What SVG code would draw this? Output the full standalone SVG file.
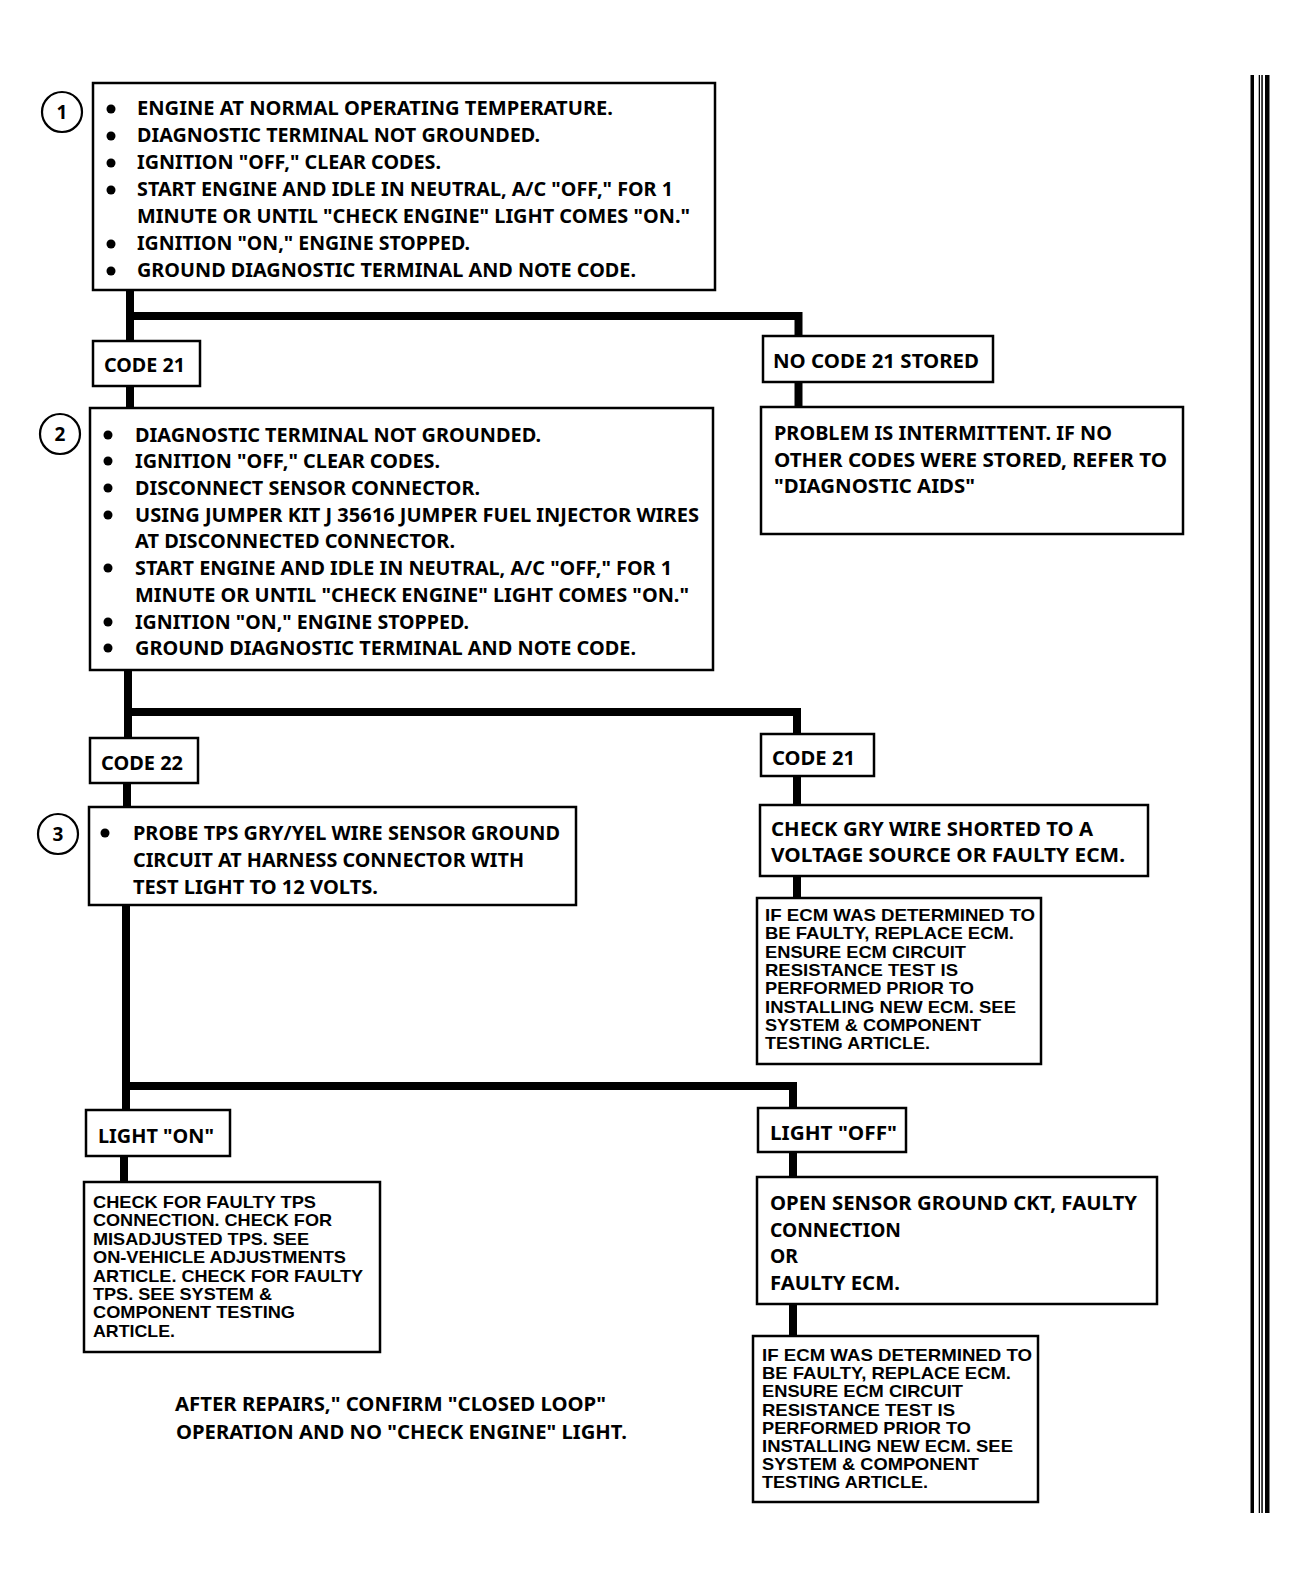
<svg xmlns="http://www.w3.org/2000/svg" width="1306" height="1588" viewBox="0 0 1306 1588">
<style>
.box{fill:#fff;stroke:#000;stroke-width:2.5}
.conn{fill:none;stroke:#000;stroke-width:8;stroke-linejoin:miter;stroke-linecap:butt}
.t{font-family:"Noto Sans","Liberation Sans",sans-serif;font-weight:700;font-size:19px;fill:#000}
.s{font-family:"Liberation Sans",Arial,sans-serif;font-weight:700;font-size:17px;fill:#000}
.num{font-family:"Noto Sans","Liberation Sans",sans-serif;font-weight:700;font-size:19px;fill:#000;text-anchor:middle}
.circ{fill:#fff;stroke:#000;stroke-width:2.2}
.dot{fill:#000}
</style>
<rect width="1306" height="1588" fill="#fff"/>

<g id="connectors">
<path class="conn" d="M130,290 V341"/>
<path class="conn" d="M126,316 H798.5 V336"/>
<path class="conn" d="M130,386 V408"/>
<path class="conn" d="M798.5,382 V407"/>
<path class="conn" d="M128,670 V738"/>
<path class="conn" d="M124,712 H797 V734"/>
<path class="conn" d="M127,783 V807"/>
<path class="conn" d="M797,776 V805"/>
<path class="conn" d="M797,876 V898"/>
<path class="conn" d="M126,905 V1110"/>
<path class="conn" d="M122,1086 H793 V1108"/>
<path class="conn" d="M124,1156 V1182"/>
<path class="conn" d="M793,1152 V1177"/>
<path class="conn" d="M793,1304 V1336"/>
</g>

<g id="step1">
<circle class="circ" cx="62" cy="112" r="20"/>
<text class="num" x="62" y="119">1</text>
<rect class="box" x="93" y="83" width="622" height="207"/>
<circle class="dot" cx="111" cy="109" r="4.5"/>
<circle class="dot" cx="111" cy="136" r="4.5"/>
<circle class="dot" cx="111" cy="163" r="4.5"/>
<circle class="dot" cx="111" cy="190" r="4.5"/>
<circle class="dot" cx="111" cy="244" r="4.5"/>
<circle class="dot" cx="111" cy="271" r="4.5"/>
<text class="t" x="137" y="115" textLength="476" lengthAdjust="spacingAndGlyphs">ENGINE AT NORMAL OPERATING TEMPERATURE.</text>
<text class="t" x="137" y="142" textLength="403" lengthAdjust="spacingAndGlyphs">DIAGNOSTIC TERMINAL NOT GROUNDED.</text>
<text class="t" x="137" y="169" textLength="304" lengthAdjust="spacingAndGlyphs">IGNITION "OFF," CLEAR CODES.</text>
<text class="t" x="137" y="196" textLength="536" lengthAdjust="spacingAndGlyphs">START ENGINE AND IDLE IN NEUTRAL, A/C "OFF," FOR 1</text>
<text class="t" x="137" y="223" textLength="553" lengthAdjust="spacingAndGlyphs">MINUTE OR UNTIL "CHECK ENGINE" LIGHT COMES "ON."</text>
<text class="t" x="137" y="250" textLength="333" lengthAdjust="spacingAndGlyphs">IGNITION "ON," ENGINE STOPPED.</text>
<text class="t" x="137" y="277" textLength="499" lengthAdjust="spacingAndGlyphs">GROUND DIAGNOSTIC TERMINAL AND NOTE CODE.</text>
</g>

<g id="code21a">
<rect class="box" x="93" y="341" width="107" height="45"/>
<text class="t" x="104" y="372" textLength="81" lengthAdjust="spacingAndGlyphs">CODE 21</text>
</g>

<g id="nocode21">
<rect class="box" x="763" y="336" width="230" height="46"/>
<text class="t" x="773" y="368" textLength="206" lengthAdjust="spacingAndGlyphs">NO CODE 21 STORED</text>
</g>

<g id="intermittent">
<rect class="box" x="761" y="407" width="422" height="127"/>
<text class="t" x="774" y="440" textLength="338" lengthAdjust="spacingAndGlyphs">PROBLEM IS INTERMITTENT.  IF NO</text>
<text class="t" x="774" y="467" textLength="393" lengthAdjust="spacingAndGlyphs">OTHER CODES WERE STORED, REFER TO</text>
<text class="t" x="774" y="493" textLength="201" lengthAdjust="spacingAndGlyphs">"DIAGNOSTIC AIDS"</text>
</g>

<g id="step2">
<circle class="circ" cx="60" cy="434" r="20"/>
<text class="num" x="60" y="441">2</text>
<rect class="box" x="90" y="408" width="623" height="262"/>
<circle class="dot" cx="108" cy="435" r="4.5"/>
<circle class="dot" cx="108" cy="461" r="4.5"/>
<circle class="dot" cx="108" cy="488" r="4.5"/>
<circle class="dot" cx="108" cy="515" r="4.5"/>
<circle class="dot" cx="108" cy="568" r="4.5"/>
<circle class="dot" cx="108" cy="622" r="4.5"/>
<circle class="dot" cx="108" cy="648" r="4.5"/>
<text class="t" x="135" y="442" textLength="406" lengthAdjust="spacingAndGlyphs">DIAGNOSTIC TERMINAL NOT GROUNDED.</text>
<text class="t" x="135" y="468" textLength="305" lengthAdjust="spacingAndGlyphs">IGNITION "OFF," CLEAR CODES.</text>
<text class="t" x="135" y="495" textLength="345" lengthAdjust="spacingAndGlyphs">DISCONNECT SENSOR CONNECTOR.</text>
<text class="t" x="135" y="522" textLength="564" lengthAdjust="spacingAndGlyphs">USING JUMPER KIT J 35616 JUMPER FUEL INJECTOR WIRES</text>
<text class="t" x="135" y="548" textLength="320" lengthAdjust="spacingAndGlyphs">AT DISCONNECTED CONNECTOR.</text>
<text class="t" x="135" y="575" textLength="537" lengthAdjust="spacingAndGlyphs">START ENGINE AND IDLE IN NEUTRAL, A/C "OFF," FOR 1</text>
<text class="t" x="135" y="602" textLength="554" lengthAdjust="spacingAndGlyphs">MINUTE OR UNTIL "CHECK ENGINE" LIGHT COMES "ON."</text>
<text class="t" x="135" y="629" textLength="334" lengthAdjust="spacingAndGlyphs">IGNITION "ON," ENGINE STOPPED.</text>
<text class="t" x="135" y="655" textLength="501" lengthAdjust="spacingAndGlyphs">GROUND DIAGNOSTIC TERMINAL AND NOTE CODE.</text>
</g>

<g id="code22">
<rect class="box" x="90" y="738" width="108" height="45"/>
<text class="t" x="101" y="770" textLength="82" lengthAdjust="spacingAndGlyphs">CODE 22</text>
</g>

<g id="code21b">
<rect class="box" x="761" y="734" width="113" height="42"/>
<text class="t" x="772" y="765" textLength="83" lengthAdjust="spacingAndGlyphs">CODE 21</text>
</g>

<g id="checkgry">
<rect class="box" x="760" y="805" width="388" height="71"/>
<text class="t" x="771" y="836" textLength="322" lengthAdjust="spacingAndGlyphs">CHECK GRY WIRE SHORTED TO A</text>
<text class="t" x="771" y="862" textLength="354" lengthAdjust="spacingAndGlyphs">VOLTAGE SOURCE OR FAULTY ECM.</text>
</g>

<g id="ecm1">
<rect class="box" x="757" y="898" width="284" height="166"/>
<text class="s" x="765" y="921" textLength="270" lengthAdjust="spacingAndGlyphs">IF ECM WAS DETERMINED TO</text>
<text class="s" x="765" y="939.3" textLength="249" lengthAdjust="spacingAndGlyphs">BE FAULTY, REPLACE ECM.</text>
<text class="s" x="765" y="957.6" textLength="201" lengthAdjust="spacingAndGlyphs">ENSURE ECM CIRCUIT</text>
<text class="s" x="765" y="975.9" textLength="193" lengthAdjust="spacingAndGlyphs">RESISTANCE TEST IS</text>
<text class="s" x="765" y="994.2" textLength="209" lengthAdjust="spacingAndGlyphs">PERFORMED PRIOR TO</text>
<text class="s" x="765" y="1012.5" textLength="251" lengthAdjust="spacingAndGlyphs">INSTALLING NEW ECM. SEE</text>
<text class="s" x="765" y="1030.8" textLength="216" lengthAdjust="spacingAndGlyphs">SYSTEM &amp; COMPONENT</text>
<text class="s" x="765" y="1049.1" textLength="165" lengthAdjust="spacingAndGlyphs">TESTING ARTICLE.</text>
</g>

<g id="step3">
<circle class="circ" cx="58" cy="834" r="20"/>
<text class="num" x="58" y="841">3</text>
<rect class="box" x="89" y="807" width="487" height="98"/>
<circle class="dot" cx="105" cy="833" r="4.5"/>
<text class="t" x="133" y="840" textLength="427" lengthAdjust="spacingAndGlyphs">PROBE TPS GRY/YEL WIRE SENSOR GROUND</text>
<text class="t" x="133" y="867" textLength="391" lengthAdjust="spacingAndGlyphs">CIRCUIT AT HARNESS CONNECTOR WITH</text>
<text class="t" x="133" y="894" textLength="245" lengthAdjust="spacingAndGlyphs">TEST LIGHT TO 12 VOLTS.</text>
</g>

<g id="lighton">
<rect class="box" x="86" y="1110" width="144" height="46"/>
<text class="t" x="98" y="1143" textLength="116" lengthAdjust="spacingAndGlyphs">LIGHT "ON"</text>
</g>

<g id="tpscheck">
<rect class="box" x="84" y="1182" width="296" height="170"/>
<text class="s" x="93" y="1208" textLength="223" lengthAdjust="spacingAndGlyphs">CHECK FOR FAULTY TPS</text>
<text class="s" x="93" y="1226.4" textLength="239" lengthAdjust="spacingAndGlyphs">CONNECTION. CHECK FOR</text>
<text class="s" x="93" y="1244.8" textLength="216" lengthAdjust="spacingAndGlyphs">MISADJUSTED TPS. SEE</text>
<text class="s" x="93" y="1263.2" textLength="253" lengthAdjust="spacingAndGlyphs">ON-VEHICLE ADJUSTMENTS</text>
<text class="s" x="93" y="1281.6" textLength="270" lengthAdjust="spacingAndGlyphs">ARTICLE. CHECK FOR FAULTY</text>
<text class="s" x="93" y="1300" textLength="179" lengthAdjust="spacingAndGlyphs">TPS. SEE SYSTEM &amp;</text>
<text class="s" x="93" y="1318.4" textLength="202" lengthAdjust="spacingAndGlyphs">COMPONENT TESTING</text>
<text class="s" x="93" y="1336.8" textLength="82" lengthAdjust="spacingAndGlyphs">ARTICLE.</text>
</g>

<g id="lightoff">
<rect class="box" x="758" y="1108" width="148" height="44"/>
<text class="t" x="770" y="1140" textLength="127" lengthAdjust="spacingAndGlyphs">LIGHT "OFF"</text>
</g>

<g id="opensensor">
<rect class="box" x="757" y="1177" width="400" height="127"/>
<text class="t" x="770" y="1210" textLength="367" lengthAdjust="spacingAndGlyphs">OPEN SENSOR GROUND CKT, FAULTY</text>
<text class="t" x="770" y="1237" textLength="131" lengthAdjust="spacingAndGlyphs">CONNECTION</text>
<text class="t" x="770" y="1263" textLength="28" lengthAdjust="spacingAndGlyphs">OR</text>
<text class="t" x="770" y="1290" textLength="130" lengthAdjust="spacingAndGlyphs">FAULTY ECM.</text>
</g>

<g id="ecm2">
<rect class="box" x="753" y="1336" width="285" height="166"/>
<text class="s" x="762" y="1361" textLength="270" lengthAdjust="spacingAndGlyphs">IF ECM WAS DETERMINED TO</text>
<text class="s" x="762" y="1379.2" textLength="249" lengthAdjust="spacingAndGlyphs">BE FAULTY, REPLACE ECM.</text>
<text class="s" x="762" y="1397.4" textLength="201" lengthAdjust="spacingAndGlyphs">ENSURE ECM CIRCUIT</text>
<text class="s" x="762" y="1415.6" textLength="193" lengthAdjust="spacingAndGlyphs">RESISTANCE TEST IS</text>
<text class="s" x="762" y="1433.8" textLength="209" lengthAdjust="spacingAndGlyphs">PERFORMED PRIOR TO</text>
<text class="s" x="762" y="1452" textLength="251" lengthAdjust="spacingAndGlyphs">INSTALLING NEW ECM. SEE</text>
<text class="s" x="762" y="1470.2" textLength="217" lengthAdjust="spacingAndGlyphs">SYSTEM &amp; COMPONENT</text>
<text class="s" x="762" y="1488.4" textLength="166" lengthAdjust="spacingAndGlyphs">TESTING ARTICLE.</text>
</g>

<g id="footer">
<text class="t" x="175" y="1411" textLength="431" lengthAdjust="spacingAndGlyphs">AFTER REPAIRS," CONFIRM "CLOSED LOOP"</text>
<text class="t" x="176" y="1439" textLength="451" lengthAdjust="spacingAndGlyphs">OPERATION AND NO "CHECK ENGINE" LIGHT.</text>
</g>

<g id="margin-bars">
<rect x="1250.5" y="75" width="3.5" height="1438" fill="#000"/>
<rect x="1258.7" y="75" width="1.3" height="1438" fill="#000"/>
<rect x="1261.3" y="75" width="1.5" height="1438" fill="#000"/>
<rect x="1265" y="75" width="4.5" height="1438" fill="#000"/>
</g>
</svg>
